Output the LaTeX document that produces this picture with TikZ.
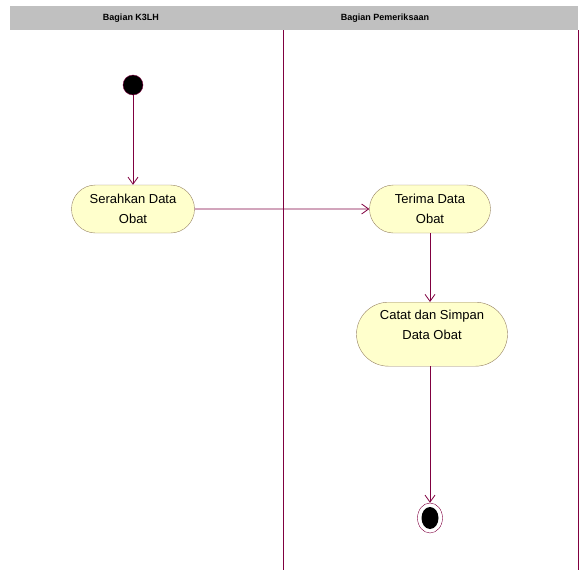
\documentclass[tikz,border=0pt]{standalone}
\usepackage{fontspec}
\setmainfont{Liberation Sans}
\usetikzlibrary{arrows.meta,shapes.misc,shapes.geometric,positioning}
\definecolor{umlline}{RGB}{128,0,64}
\definecolor{umlfill}{RGB}{255,255,204}
\definecolor{umlbord}{RGB}{150,130,100}
\definecolor{lanehead}{RGB}{192,192,192}

\begin{document}
\begin{tikzpicture}[x=1pt,y=-1pt,
  activity/.style={rounded rectangle, draw=umlbord, fill=umlfill, align=center,
    font=\fontsize{13}{20}\selectfont, inner sep=2pt},
  flow/.style={draw=umlline, line width=0.8pt, -{Straight Barb[length=7pt,width=10pt]}}]
  \useasboundingbox (0,0) rectangle (583,570);
  % Swimlanes
  \fill[lanehead] (10,6) rectangle (578,30);
  \node[font=\fontsize{9}{10}\selectfont\bfseries] (laneA) at (131,18) {Bagian K3LH};
  \node[font=\fontsize{9}{10}\selectfont\bfseries] (laneB) at (385,18) {Bagian Pemeriksaan};
  \draw[umlline, line width=1pt] (283,30) -- (283,570);
  \draw[umlline, line width=1pt] (578,30) -- (578,570);

  % Activities
  \node[circle, fill=black, draw=umlline, minimum size=20pt, inner sep=0pt] (start) at (133,85) {};
  \node[activity, minimum width=127pt, minimum height=48pt] (serah) at (133,209) {Serahkan Data\\Obat};
  \node[activity, minimum width=125pt, minimum height=48pt] (terima) at (430,209) {Terima Data\\Obat};
  \node[activity, minimum width=155pt, minimum height=64pt, anchor=north] (catat) at (432,302) {Catat dan Simpan\\Data Obat\\[-8pt]\strut};
  \node[ellipse, draw=umlline, fill=white, minimum width=25pt, minimum height=30pt, inner sep=0pt] (stop) at (430,518) {};
  \node[ellipse, fill=black, minimum width=17pt, minimum height=22pt, inner sep=0pt] (stopdot) at (stop) {};

  \draw[flow] (start) -- (serah);
  \draw[flow] (serah) -- (terima);
  \draw[flow] (terima) -- (terima |- catat.north);
  \draw[flow] (catat.south -| stop) -- (stop);
\end{tikzpicture}
\end{document}
